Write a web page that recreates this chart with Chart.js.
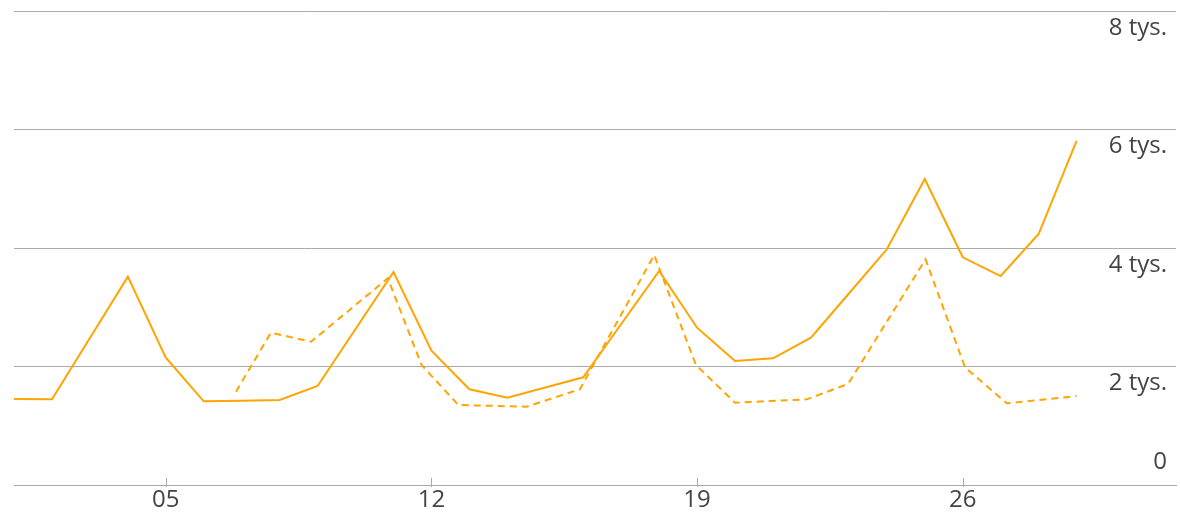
<!DOCTYPE html>
<html>
<head>
<meta charset="utf-8">
<script src="https://cdn.jsdelivr.net/npm/chart.js@4/dist/chart.umd.min.js"></script>
<style>
  html, body { margin: 0; padding: 0; background: #fff; }
  #wrap { width: 1180px; height: 514px; }
</style>
</head>
<body>
<div id="wrap"><canvas id="chart"></canvas></div>
<script>
// dni miesiąca
const days = [1, 2, 3, 4, 5, 6, 7, 8, 9, 10, 11, 12, 13, 14, 15, 16, 17, 18, 19, 20, 21, 22, 23, 24, 25, 26, 27, 28, 29];
// seria ciągła
const solidValues = [1451, 1446, 2481, 3516, 2149, 1412, 1420, 1435, 1671, 2633, 3595, 2267, 1615, 1474, 1646, 1818, 2717, 3612, 2655, 2093, 2138, 2486, 3232, 3978, 5165, 3843, 3527, 4236, 5806];
// seria przerywana (punkty nie leżą dokładnie na pełnych dniach)
const dashedDays = [6.85, 7.77, 8.83, 10.85, 11.74, 12.71, 14.51, 15.91, 17.87, 18.97, 20.0, 21.89, 22.98, 25.02, 26.06, 27.16, 29.0];
const dashedValues = [1575, 2570, 2419, 3489, 2025, 1350, 1322, 1615, 3882, 2025, 1389, 1446, 1705, 3809, 1987, 1379, 1502];

const xTickDays = [5, 12, 19, 26];
const xTickLabels = ['05', '12', '19', '26'];
const yTickValues = [0, 2000, 4000, 6000, 8000];
const yTickLabels = ['0', '2 tys.', '4 tys.', '6 tys.', '8 tys.'];

const orange = '#ffa400';
const gridGrey = '#ababab';
const textGrey = '#444';
const fontFamily = "'Open Sans', 'Noto Sans', sans-serif";

// etykiety osi Y rysowane w obszarze wykresu, pod liniami siatki
const yLabelsPlugin = {
  id: 'yLabels',
  afterDraw(chart) {
    const { ctx, chartArea } = chart;
    const y = chart.scales.y;
    const x = chart.scales.x;
    ctx.save();
    ctx.font = '24px ' + fontFamily;
    ctx.fillStyle = textGrey;
    ctx.textAlign = 'right';
    ctx.textBaseline = 'middle';
    yTickValues.forEach((v, i) => {
      const py = y.getPixelForValue(v);
      const off = v === 0 ? -23 : 17;
      ctx.fillText(yTickLabels[i], chartArea.right - 9, py + off);
    });
    // kreski podziałki osi X (wystają nad oś)
    ctx.strokeStyle = gridGrey;
    ctx.lineWidth = 1;
    xTickDays.forEach(d => {
      const px = Math.round(x.getPixelForValue(d)) + 0.5;
      ctx.beginPath();
      ctx.moveTo(px, chartArea.bottom - 7);
      ctx.lineTo(px, chartArea.bottom + 2);
      ctx.stroke();
    });
    ctx.restore();
  }
};

new Chart(document.getElementById('chart'), {
  type: 'line',
  data: {
    datasets: [
      {
        label: 'bieżący',
        data: days.map((d, i) => ({ x: d, y: solidValues[i] })),
        borderColor: orange,
        borderWidth: 2,
        pointRadius: 0,
        tension: 0,
        fill: false
      },
      {
        label: 'poprzedni',
        data: dashedDays.map((d, i) => ({ x: d, y: dashedValues[i] })),
        borderColor: orange,
        borderWidth: 2,
        borderDash: [7, 5],
        pointRadius: 0,
        tension: 0,
        fill: false
      }
    ]
  },
  options: {
    responsive: true,
    maintainAspectRatio: false,
    animation: false,
    layout: { padding: { top: 11, left: 14, right: 0, bottom: 0 } },
    plugins: {
      legend: { display: false },
      tooltip: { enabled: false }
    },
    scales: {
      x: {
        type: 'linear',
        min: 1,
        max: 31.62,
        afterBuildTicks: s => { s.ticks = xTickDays.map(v => ({ value: v })); },
        afterFit: s => { s.height = 29; },
        grid: { display: false, drawTicks: false },
        border: { display: true, color: gridGrey, width: 1 },
        ticks: {
          padding: 1,
          color: textGrey,
          font: { family: fontFamily, size: 24 },
          maxRotation: 0,
          autoSkip: false,
          callback: v => xTickLabels[xTickDays.indexOf(v)]
        }
      },
      y: {
        position: 'right',
        min: 0,
        max: 8000,
        afterBuildTicks: s => { s.ticks = yTickValues.map(v => ({ value: v })); },
        afterFit: s => { s.width = 4; },
        grid: { color: gridGrey, lineWidth: 1, drawTicks: false },
        border: { display: false },
        ticks: { display: false }
      }
    }
  },
  plugins: [yLabelsPlugin]
});
</script>
</body>
</html>
